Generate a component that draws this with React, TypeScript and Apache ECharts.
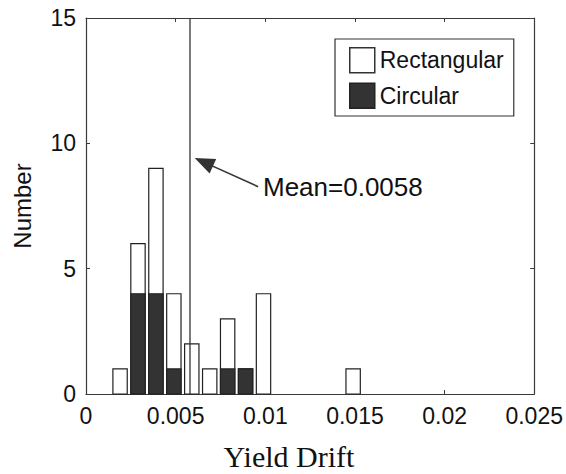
import React, { useEffect, useRef } from "react";
import * as echarts from "echarts";

// Bin centres (yield drift) and counts
const binCenters = [0.0019, 0.0029, 0.0039, 0.0049, 0.0059, 0.0069, 0.0079, 0.0089, 0.0099, 0.0149];
const rectangularCounts = [1, 6, 9, 4, 2, 1, 3, 1, 4, 1];
const circularCounts = [0, 4, 4, 1, 0, 0, 1, 1, 0, 0];
const meanDrift = 0.0058;
const xTicks = [0, 0.005, 0.01, 0.015, 0.02, 0.025];
const yTicks = [0, 5, 10, 15];

const BIN_HALF = 0.0004;
const SANS = "'Liberation Sans', Arial, sans-serif";
const SERIF = "'Liberation Serif', 'Times New Roman', serif";
const AXIS_COLOR = "#3a3a3a";
const DARK = "#333333";

function barRenderer(fill: string) {
  return (params: any, api: any) => {
    const x = api.value(0);
    const y = api.value(1);
    if (!y) return null;
    const p0 = api.coord([x - BIN_HALF, y]);
    const p1 = api.coord([x + BIN_HALF, 0]);
    return {
      type: "rect",
      shape: { x: p0[0], y: p0[1], width: p1[0] - p0[0], height: p1[1] - p0[1] },
      style: { fill, stroke: "#222", lineWidth: 1.2 },
    };
  };
}

export default function App() {
  const ref = useRef<HTMLDivElement>(null);
  useEffect(() => {
    if (!ref.current) return;
    const chart = echarts.init(ref.current, undefined, { renderer: "svg" });
    const rectData = binCenters.map((c, i) => [c, rectangularCounts[i]]);
    const circData = binCenters.map((c, i) => [c, circularCounts[i]]);
    const xFmt = (v: number) => {
      const found = xTicks.find((t) => Math.abs(t - v) < 1e-9);
      return found === undefined ? "" : String(+found.toFixed(4));
    };
    const axisCommon = {
      axisLine: { show: true, onZero: false, lineStyle: { color: AXIS_COLOR, width: 1.2 } },
      axisTick: { show: true, inside: true, length: 4, lineStyle: { color: AXIS_COLOR, width: 1 } },
      splitLine: { show: false },
    };
    chart.setOption({
      animation: false,
      backgroundColor: "#ffffff",
      grid: { left: 86, top: 18, width: 449, height: 376, containLabel: false },
      legend: {
        left: 335,
        top: 39,
        orient: "vertical",
        padding: [8, 10, 7, 14],
        itemWidth: 25,
        itemHeight: 25,
        itemGap: 9,
        borderColor: "#333",
        borderWidth: 1.2,
        backgroundColor: "#fff",
        icon: "rect",
        textStyle: { fontFamily: SANS, fontSize: 23, color: "#111" },
        data: [
          { name: "Rectangular", itemStyle: { color: "#ffffff", borderColor: "#333", borderWidth: 1.5 } },
          { name: "Circular", itemStyle: { color: DARK, borderColor: "#222", borderWidth: 1.5 } },
        ],
      },
      xAxis: [
        {
          type: "value",
          min: 0,
          max: 0.025,
          interval: 0.005,
          position: "bottom",
          ...axisCommon,
          axisLabel: {
            margin: 10,
            fontFamily: SANS,
            fontSize: 23,
            color: "#111",
            formatter: xFmt,
          },
        },
        {
          type: "value",
          min: 0,
          max: 0.025,
          interval: 0.005,
          position: "top",
          ...axisCommon,
          axisLabel: { show: false },
        },
      ],
      yAxis: [
        {
          type: "value",
          min: 0,
          max: 15,
          interval: 5,
          position: "left",
          ...axisCommon,
          name: "Number",
          nameLocation: "middle",
          nameRotate: 90,
          nameGap: 52,
          nameTextStyle: { fontFamily: SANS, fontSize: 24, color: "#111" },
          axisLabel: {
            margin: 10,
            fontFamily: SANS,
            fontSize: 23,
            color: "#111",
            formatter: (v: number) => (yTicks.includes(v) ? String(v) : ""),
          },
        },
        {
          type: "value",
          min: 0,
          max: 15,
          interval: 5,
          position: "right",
          ...axisCommon,
          axisLabel: { show: false },
        },
      ],
      series: [
        {
          name: "Rectangular",
          type: "custom",
          renderItem: barRenderer("#ffffff"),
          data: rectData,
          itemStyle: { color: "#ffffff", borderColor: "#333" },
          encode: { x: 0, y: 1 },
          z: 2,
        },
        {
          name: "Circular",
          type: "custom",
          renderItem: barRenderer(DARK),
          data: circData,
          itemStyle: { color: DARK, borderColor: "#222" },
          encode: { x: 0, y: 1 },
          z: 3,
        },
        {
          name: "mean",
          type: "line",
          data: [
            [meanDrift, 0],
            [meanDrift, 15],
          ],
          symbol: "none",
          lineStyle: { color: "#333", width: 1.3 },
          z: 4,
          silent: true,
          markLine: {
            silent: true,
            symbol: ["none", "triangle"],
            symbolSize: [16, 20],
            itemStyle: { color: "#111" },
            lineStyle: { color: "#333", width: 1.6, type: "solid" },
            label: { show: false },
            data: [
              [
                { coord: [0.0096, 8.27] },
                { coord: [0.00657, 9.25] },
              ],
            ],
          },
        },
      ],
      graphic: [
        {
          type: "text",
          style: {
            x: 263,
            y: 187,
            text: "Mean=" + meanDrift.toFixed(4),
            fontFamily: SANS,
            fontSize: 26,
            fill: "#111",
            textAlign: "left",
            textVerticalAlign: "middle",
          },
        },
        {
          type: "text",
          style: {
            x: 289,
            y: 456,
            text: "Yield Drift",
            fontFamily: SERIF,
            fontSize: 30,
            fill: "#111",
            textAlign: "center",
            textVerticalAlign: "middle",
          },
        },
      ],
    });
    return () => chart.dispose();
  }, []);
  return (
    <div
      ref={ref}
      style={{ position: "absolute", left: 0, top: 0, width: 566, height: 474 }}
    />
  );
}
